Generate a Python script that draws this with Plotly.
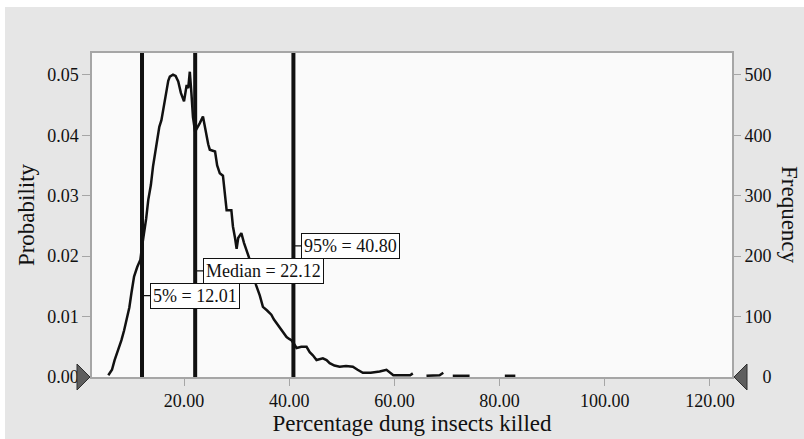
import plotly.graph_objects as go

# ---- data ----
pct_killed = [5.6, 6.3, 6.8, 7.5, 8.1, 8.6, 9.1, 9.6, 10.0, 10.5, 11.1, 11.7, 12.0, 12.4,
              12.8, 13.2, 13.7, 14.1, 14.5, 14.8, 15.3, 15.7, 16.0, 16.4, 16.7, 17.0, 17.3,
              17.9, 18.4, 18.9, 19.4, 20.0, 20.5, 20.8, 21.1, 21.4, 21.7, 22.1, 22.5, 23.0,
              23.6, 24.0, 24.6, 24.9, 25.9, 26.3, 26.8, 27.4, 27.8, 28.1, 29.0, 29.3, 29.7,
              30.0, 30.3, 30.9, 31.4, 31.9, 32.5, 33.1, 33.7, 34.4, 35.0, 35.8, 36.6, 37.1,
              37.6, 38.0, 38.5, 39.0, 39.5, 40.0, 40.4, 40.9, 41.4, 42.3, 43.3, 43.9, 44.5,
              45.2, 45.8, 46.4, 47.1, 47.7, 48.6, 49.6, 50.8, 52.1, 53.0, 54.0, 55.5, 57.2,
              58.5, 59.8, 61.5, 63.0, 63.5, None, 66.1, 67.5, 68.6, 69.3, None, 71.1, 74.3,
              None, 81.0, 83.0]
frequency = [3, 12, 28, 45, 61, 77, 94, 115, 139, 166, 182, 194, 215, 238,
             262, 293, 318, 348, 372, 387, 414, 425, 442, 462, 475, 490, 497,
             500, 498, 489, 470, 456, 483, 478, 505, 470, 430, 406, 412, 420,
             431, 410, 385, 376, 373, 350, 337, 333, 300, 276, 276, 249, 230,
             212, 230, 238, 222, 210, 194, 172, 152, 135, 116, 110, 103, 95,
             89, 84, 78, 72, 66, 63, 61, 55, 48, 50, 50, 41, 36,
             28, 30, 31, 28, 23, 19, 17, 18, 17, 12, 7, 7, 9,
             12, 3, 3, 3, 6, None, 2, 2, 3, 7, None, 2, 2,
             None, 2, 2]

marker_names = ["5%", "Median", "95%"]
marker_values = [12.01, 22.12, 40.80]
marker_label_freq = [134.6, 175.5, 217.0]

x_ticks = [20, 40, 60, 80, 100, 120]
x_tick_text = ["20.00", "40.00", "60.00", "80.00", "100.00", "120.00"]
prob_ticks = [0.00, 0.01, 0.02, 0.03, 0.04, 0.05]
prob_tick_text = ["0.00", "0.01", "0.02", "0.03", "0.04", "0.05"]
freq_ticks = [0, 100, 200, 300, 400, 500]
freq_tick_text = ["\u2007\u20070", "100", "200", "300", "400", "500"]

X_RANGE = [2.5, 124.2]
FREQ_MAX = 536
PROB_MAX = 0.0536

PLOT_W, PLOT_H = 640, 324  # plot area size in px (804-92-72, 439-53-62)

FONT = "Liberation Serif"
GRAY_AX = "#a6a6a6"

fig = go.Figure()

# vertical percentile lines (on the probability axis)
for v in marker_values:
    fig.add_trace(go.Scatter(x=[v, v], y=[0, PROB_MAX], mode="lines",
                             line=dict(color="#111111", width=4),
                             xaxis="x", yaxis="y", showlegend=False, hoverinfo="skip"))

# distribution curve (on the frequency axis)
fig.add_trace(go.Scatter(x=pct_killed, y=frequency, mode="lines",
                         line=dict(color="#111111", width=2.5),
                         connectgaps=False, xaxis="x", yaxis="y2",
                         showlegend=False))

annotations = []
for name, v, fy in zip(marker_names, marker_values, marker_label_freq):
    annotations.append(dict(
        x=v, y=fy, xref="x", yref="y2",
        text=f"{name} = {v:.2f}",
        showarrow=True, arrowhead=0, arrowwidth=1.2, arrowcolor="#111111",
        ax=8, ay=0, axref="pixel", ayref="pixel", standoff=0,
        xanchor="left", yanchor="middle",
        bgcolor="white", bordercolor="#111111", borderwidth=1, borderpad=2,
        font=dict(family=FONT, size=18, color="#111111")))

annotations.append(dict(
    x=1.0, y=0.5, xref="paper", yref="paper", xshift=58,
    text="Frequency", textangle=90, showarrow=False,
    xanchor="center", yanchor="middle",
    font=dict(family=FONT, size=23, color="#111111")))


def px(dx):
    return dx / PLOT_W


def py(dy):
    return dy / PLOT_H


left_tri = (f"M {px(-2)},0 L {px(-15)},{py(13)} L {px(-15)},{py(-13)} Z")
right_tri = (f"M {1 + px(2)},0 L {1 + px(15)},{py(13)} L {1 + px(15)},{py(-13)} Z")

shapes = [
    # white outer strips (top and left)
    dict(type="rect", xref="paper", yref="paper", x0=-0.2, x1=1.2,
         y0=(377 - 7) / PLOT_H, y1=1.3, fillcolor="white", line=dict(width=0), layer="below"),
    dict(type="rect", xref="paper", yref="paper", x0=-0.2, x1=(5 - 92) / PLOT_W,
         y0=-0.3, y1=1.3, fillcolor="white", line=dict(width=0), layer="below"),
    # slider triangles at zero
    dict(type="path", xref="paper", yref="paper", path=left_tri,
         fillcolor="#5e5e5e", line=dict(color="#2e2e2e", width=1), layer="above"),
    dict(type="path", xref="paper", yref="paper", path=right_tri,
         fillcolor="#5e5e5e", line=dict(color="#2e2e2e", width=1), layer="above"),
]

fig.update_layout(
    width=804, height=439,
    margin=dict(l=92, r=72, t=53, b=62, autoexpand=False),
    paper_bgcolor="#e6e6e6",
    plot_bgcolor="#fafafa",
    showlegend=False,
    font=dict(family=FONT, size=18, color="#111111"),
    xaxis=dict(range=X_RANGE, tickvals=x_ticks, ticktext=x_tick_text,
               showgrid=False, zeroline=False, showline=True, mirror=True,
               linecolor=GRAY_AX, linewidth=1.5, ticks="outside", ticklen=7,
               tickcolor=GRAY_AX, tickwidth=1.2, automargin=False,
               title=dict(text="Percentage dung insects killed", standoff=4,
                          font=dict(family=FONT, size=23))),
    yaxis=dict(range=[0, PROB_MAX], tickvals=prob_ticks, ticktext=prob_tick_text,
               showgrid=False, zeroline=False, showline=True, mirror=True,
               linecolor=GRAY_AX, linewidth=1.5, ticks="outside", ticklen=8,
               tickcolor=GRAY_AX, tickwidth=1.2, automargin=False,
               title=dict(text="Probability", standoff=6,
                          font=dict(family=FONT, size=23))),
    yaxis2=dict(range=[0, FREQ_MAX], tickvals=freq_ticks, ticktext=freq_tick_text,
                overlaying="y", side="right", anchor="x",
                showgrid=False, zeroline=False, showline=False, automargin=False,
                ticks="outside", ticklen=8, tickcolor=GRAY_AX, tickwidth=1.2),
    annotations=annotations,
    shapes=shapes,
)

fig.write_html("out.html")
